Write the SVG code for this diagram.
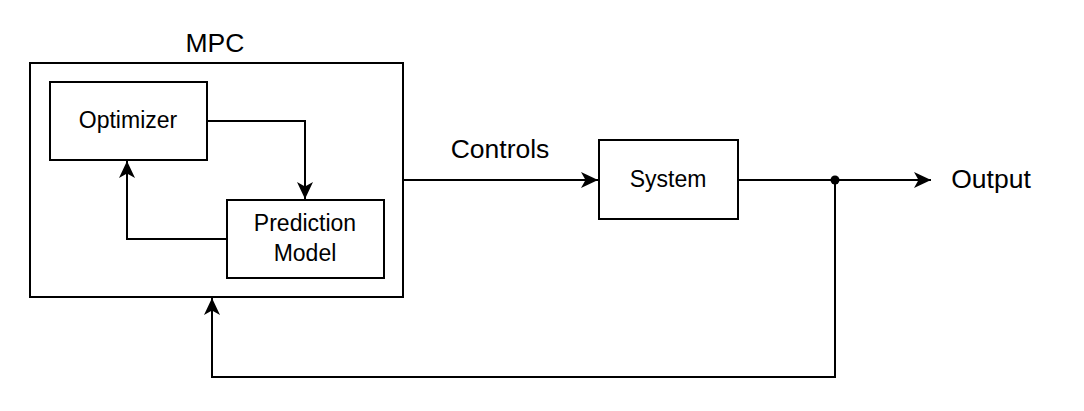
<svg xmlns="http://www.w3.org/2000/svg" width="1084" height="411" viewBox="0 0 1084 411">
<style>
.box{fill:#fff;stroke:#000;stroke-width:2}
.ln{fill:none;stroke:#000;stroke-width:2}
.t{font-family:"Liberation Sans",Arial,sans-serif;fill:#000;text-anchor:middle}
.big{font-size:26.5px}
.sm{font-size:23px}
</style>
<defs>
<marker id="arr" markerUnits="userSpaceOnUse" markerWidth="17" markerHeight="16" viewBox="0 0 17 16" refX="17" refY="8" orient="auto">
<path d="M0,0 L17,8 L0,16 L4.5,8 Z" fill="#000"/>
</marker>
</defs>
<rect width="1084" height="411" fill="#fff"/>
<g id="mpc">
<rect class="box" x="30" y="63" width="373" height="234"/>
<text class="t big" x="215" y="52">MPC</text>
</g>
<g id="optimizer">
<rect class="box" x="50" y="82" width="157" height="78"/>
<text class="t sm" x="128" y="128">Optimizer</text>
</g>
<g id="prediction-model">
<rect class="box" x="227" y="200" width="157" height="78"/>
<text class="t sm" x="305" y="231">Prediction</text>
<text class="t sm" x="305" y="261">Model</text>
</g>
<g id="system">
<rect class="box" x="599" y="140" width="139" height="79"/>
<text class="t sm" x="668" y="187">System</text>
</g>
<g id="labels">
<text class="t big" x="500" y="158">Controls</text>
<text class="t big" x="991" y="188">Output</text>
</g>
<g id="connectors">
<path class="ln" d="M207,121 H305 V199" marker-end="url(#arr)"/>
<path class="ln" d="M227,239 H127 V161" marker-end="url(#arr)"/>
<path class="ln" d="M403,180 H598" marker-end="url(#arr)"/>
<path class="ln" d="M738,180 H931" marker-end="url(#arr)"/>
<path class="ln" d="M835,180 V377 H212 V298" marker-end="url(#arr)"/>
<circle cx="835" cy="180" r="4.5" fill="#000"/>
</g>
</svg>
